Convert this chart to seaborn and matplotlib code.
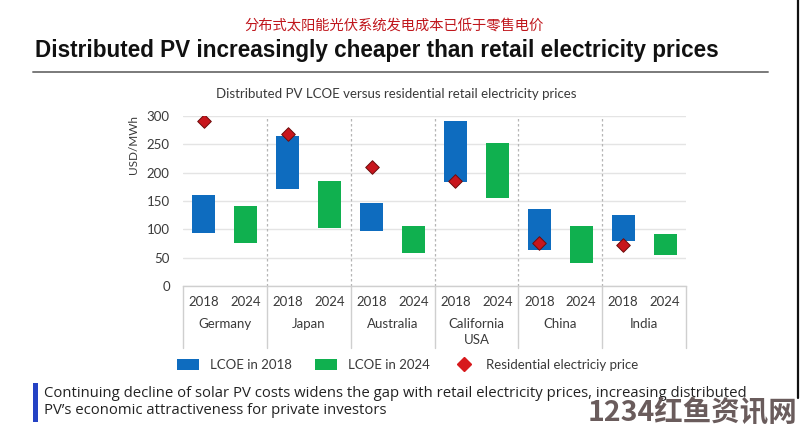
import matplotlib
matplotlib.use("Agg")
import matplotlib.pyplot as plt
import matplotlib.transforms as mtransforms
from matplotlib.patches import Patch, Rectangle
from matplotlib.lines import Line2D
import seaborn as sns
import numpy as np

# ---------------- data ----------------
countries = ["Germany", "Japan", "Australia", "California\nUSA", "China", "India"]
years = ["2018", "2024"]
lcoe2018_low = [93, 171, 97, 183, 63, 80]
lcoe2018_high = [160, 265, 147, 292, 136, 126]
lcoe2024_low = [76, 102, 59, 155, 41, 54]
lcoe2024_high = [141, 186, 106, 252, 106, 91]
retail_price = [292, 268, 210, 185, 76, 72]
yticks = [0, 50, 100, 150, 200, 250, 300]

cn_title = "分布式太阳能光伏系统发电成本已低于零售电价"
title = "Distributed PV increasingly cheaper than retail electricity prices"
subtitle = "Distributed PV LCOE versus residential retail electricity prices"
legend_labels = ["LCOE in 2018", "LCOE in 2024", "Residential electriciy price"]
footnote = ("Continuing decline of solar PV costs widens the gap with retail electricity prices, increasing distributed\n"
            "PV\u2019s economic attractiveness for private investors")
watermark = "1234红鱼资讯网"

BLUE = "#0e6cbf"
GREEN = "#10b04f"
RED = "#c8161d"
TXT = "#3a3a3a"

sns.set_theme(style="white")
plt.rcParams["font.family"] = ["Lato", "DejaVu Sans"]

W, H = 800, 436
fig = plt.figure(figsize=(8, 4.36), dpi=100)
fig.patch.set_facecolor("white")
renderer = fig.canvas.get_renderer()


def fx(px):
    return px / W


def fy(py):
    return 1 - py / H


def fit_width(t, target_px):
    w = t.get_window_extent(renderer=renderer).width
    t.set_fontsize(t.get_fontsize() * target_px / w)


ax = fig.add_axes([fx(183), fy(286), (686 - 183) / W, 170 / H])

n = len(countries)
pos2018 = [2 * i + 0.5 for i in range(n)]
pos2024 = [2 * i + 1.5 for i in range(n)]
h2018 = [hi - lo for hi, lo in zip(lcoe2018_high, lcoe2018_low)]
h2024 = [hi - lo for hi, lo in zip(lcoe2024_high, lcoe2024_low)]

bw = 0.55
sns.barplot(x=pos2018, y=h2018, bottom=lcoe2018_low, native_scale=True,
            width=bw / 2, color=BLUE, saturation=1, errorbar=None, ax=ax,
            linewidth=0, zorder=3)
sns.barplot(x=pos2024, y=h2024, bottom=lcoe2024_low, native_scale=True,
            width=bw / 2, color=GREEN, saturation=1, errorbar=None, ax=ax,
            linewidth=0, zorder=3)
sns.scatterplot(x=pos2018, y=retail_price, marker="D", s=48, color=RED,
                edgecolor="#6e0d0d", linewidth=0.7, zorder=5, ax=ax, legend=False)

ax.set_xlim(0, 2 * n)
ax.set_ylim(0, 300)
ax.set_yticks(yticks)
ax.set_yticklabels([str(v) for v in yticks])
ax.yaxis.grid(True, color="#e4e4e4", lw=1)
ax.xaxis.grid(False)
ax.set_axisbelow(True)
for s in ["left", "right", "top"]:
    ax.spines[s].set_visible(False)
ax.spines["bottom"].set_color("#cfcfcf")
ax.spines["bottom"].set_linewidth(1)
ax.tick_params(axis="y", length=0, pad=9.5, labelsize=9.5, labelcolor=TXT)

# year tick labels
xt = []
xl = []
for i in range(n):
    xt += [pos2018[i], pos2024[i]]
    xl += years
ax.set_xticks(xt)
ax.set_xticklabels(xl)
ax.tick_params(axis="x", length=0, pad=7, labelsize=9.5, labelcolor=TXT)

ax.set_xlabel("")
ax.set_ylabel("USD/MWh", fontsize=8.5, color=TXT)
ax.yaxis.set_label_coords((139 - 183) / 503, (286 - 144) / 170)

# dotted separators
ax.vlines([2 * i for i in range(1, n)], 0, 300, colors="#b5b5b5",
          linestyles=(0, (2, 2)), lw=0.9, zorder=1)

# table lines below the axis
trans = mtransforms.blended_transform_factory(ax.transData, ax.transAxes)
for i in range(n + 1):
    ax.plot([2 * i, 2 * i], [0, -62 / 170], transform=trans, clip_on=False,
            color="#cfcfcf", lw=1)

# group labels
for i, c in enumerate(countries):
    ax.text(2 * i + 1, -31.5 / 170, c, transform=trans, ha="center", va="top",
            fontsize=9.5, color=TXT, linespacing=1.5)

# legend
handles = [Patch(facecolor=BLUE, edgecolor="none"),
           Patch(facecolor=GREEN, edgecolor="none"),
           Line2D([], [], marker="D", color="none", markerfacecolor="#d7191c",
                  markeredgecolor="#d7191c", markersize=7.5)]
fig.legend(handles, legend_labels, loc="center", bbox_to_anchor=(fx(408), fy(365)),
           ncol=3, frameon=False, fontsize=9.5, handlelength=1.65, handleheight=0.9,
           handletextpad=0.85, columnspacing=1.75, labelcolor=TXT)

# titles
t_cn = fig.text(fx(394), fy(26), cn_title, ha="center", va="center", fontsize=10.3,
                color="#c0161c", family=["Noto Sans CJK SC", "DejaVu Sans"])
t_title = fig.text(fx(35), fy(51), title, ha="left", va="center", fontsize=16,
                   fontweight="bold", color="#111111", family=["Liberation Sans", "DejaVu Sans"])
fit_width(t_title, 683)
fig.add_artist(Line2D([fx(33), fx(768)], [fy(71.7), fy(71.7)], color="#7a7a7a", lw=1.4))
t_sub = fig.text(fx(396.5), fy(94), subtitle, ha="center", va="center", fontsize=9.2, color=TXT)
fit_width(t_sub, 357)

# footnote
fig.add_artist(Rectangle((fx(33), fy(422)), fx(5), 39 / H, color="#2442c4", lw=0))
t_foot = fig.text(fx(44), fy(402), footnote, ha="left", va="center", fontsize=11,
                  color="#222222", linespacing=1.2, family=["Open Sans", "DejaVu Sans"])
fit_width(t_foot, 703)

# right border
fig.add_artist(Line2D([fx(797.5), fx(797.5)], [fy(0), fy(398)], color="#111111", lw=1.6))

# watermark
fig.text(fx(797), fy(413), watermark, ha="right", va="center", fontsize=20.5,
         fontweight="bold", color="#6a5c5c", family=["Noto Sans CJK SC", "DejaVu Sans"])

fig.savefig("out.png", dpi=100)
